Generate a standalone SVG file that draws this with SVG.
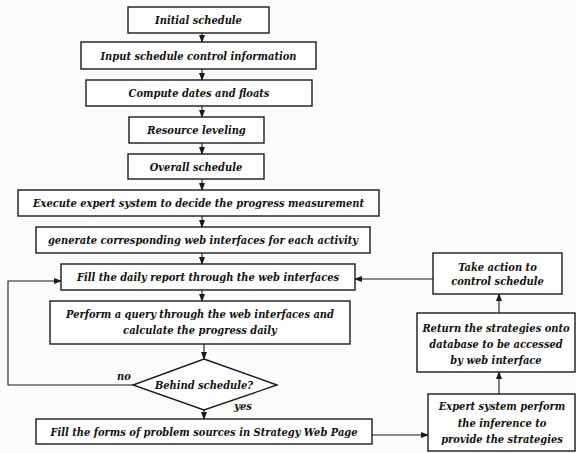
<svg xmlns="http://www.w3.org/2000/svg" width="576" height="453" viewBox="0 0 576 453">
<defs>
<marker id="ah" markerWidth="8" markerHeight="6" refX="7" refY="3" orient="auto" markerUnits="userSpaceOnUse">
<path d="M0,0 L8,3 L0,6 Z" fill="#1a1a1a"/>
</marker>
<style>
.box{fill:#ffffff;stroke:#1a1a1a;stroke-width:1.4}
.t{font-family:'DejaVu Serif Condensed','DejaVu Serif',serif;font-weight:700;font-style:italic;font-size:11px;fill:#111;text-anchor:middle}
.c{fill:none;stroke:#1a1a1a;stroke-width:1.1;marker-end:url(#ah)}
</style>
</defs>
<rect width="576" height="453" fill="#fbfbfb"/>
<g id="connectors">
<path class="c" d="M202,33 V42"/>
<path class="c" d="M202,69 V80"/>
<path class="c" d="M202,106 V117"/>
<path class="c" d="M202,143 V154"/>
<path class="c" d="M202,179 V190"/>
<path class="c" d="M202,216 V227"/>
<path class="c" d="M202,253 V264"/>
<path class="c" d="M202,290 V301"/>
<path class="c" d="M204,344 V359"/>
<path class="c" d="M204,410 V419"/>
<path class="c" d="M133,385 H8 V281 H61"/>
<path class="c" d="M372,435 H428"/>
<path class="c" d="M499,394 V372"/>
<path class="c" d="M499,313 V294"/>
<path class="c" d="M433,279 H355"/>
</g>
<g id="n1"><rect class="box" x="128" y="7" width="141" height="26"/><text class="t" x="198.5" y="24">Initial schedule</text></g>
<g id="n2"><rect class="box" x="81" y="42" width="235" height="27"/><text class="t" x="198.5" y="59.5">Input schedule control information</text></g>
<g id="n3"><rect class="box" x="86" y="80" width="226" height="26"/><text class="t" x="199" y="97">Compute dates and floats</text></g>
<g id="n4"><rect class="box" x="129" y="117" width="135" height="26"/><text class="t" x="196.5" y="134">Resource leveling</text></g>
<g id="n5"><rect class="box" x="128" y="154" width="136" height="25"/><text class="t" x="196" y="170.5">Overall schedule</text></g>
<g id="n6"><rect class="box" x="18" y="190" width="361" height="26"/><text class="t" x="198.5" y="207">Execute expert system to decide the progress measurement</text></g>
<g id="n7"><rect class="box" x="36" y="227" width="334" height="26"/><text class="t" x="203" y="244">generate corresponding web interfaces for each activity</text></g>
<g id="n8"><rect class="box" x="61" y="264" width="294" height="26"/><text class="t" x="208" y="281">Fill the daily report through the web interfaces</text></g>
<g id="n9"><rect class="box" x="50" y="301" width="300" height="43"/><text class="t" x="200" y="318">Perform a query through the web interfaces and</text><text class="t" x="200" y="334">calculate the progress daily</text></g>
<g id="n10"><path class="box" d="M204,359 L277,385 L204,410 L133,385 Z"/><text class="t" x="204" y="389">Behind schedule?</text></g>
<g id="n11"><rect class="box" x="36" y="419" width="336" height="25"/><text class="t" x="204" y="435.5">Fill the forms of problem sources in Strategy Web Page</text></g>
<g id="n12"><rect class="box" x="433" y="253" width="129" height="41"/><text class="t" x="497.5" y="271">Take action to</text><text class="t" x="497.5" y="285">control schedule</text></g>
<g id="n13"><rect class="box" x="417" y="313" width="158" height="59"/><text class="t" x="496" y="332">Return the strategies onto</text><text class="t" x="496" y="348">database to be accessed</text><text class="t" x="496" y="364">by web interface</text></g>
<g id="n14"><rect class="box" x="428" y="394" width="147" height="57"/><text class="t" x="502" y="410">Expert system perform</text><text class="t" x="502" y="427">the inference to</text><text class="t" x="502" y="443">provide the strategies</text></g>
<g id="labels"><text class="t" x="124" y="380">no</text><text class="t" x="243" y="410">yes</text></g>
</svg>
